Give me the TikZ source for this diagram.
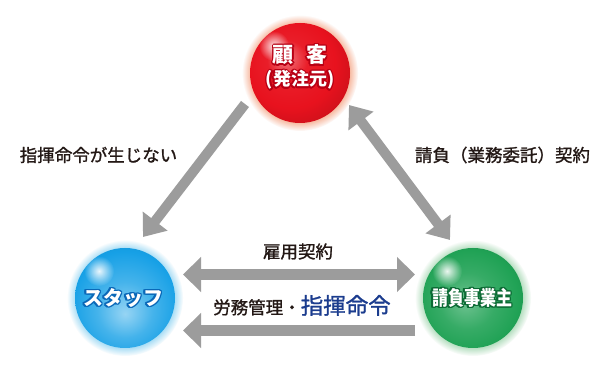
\documentclass[tikz,border=0pt]{standalone}
\usepackage{fontspec}
\usepackage{graphicx}
\setmainfont{Noto Sans CJK JP}
\newfontfamily\lblfont[FakeBold=1.2]{Noto Sans CJK JP}
\usetikzlibrary{arrows.meta,calc,fadings}
\definecolor{redc}{HTML}{E8121E}
\definecolor{reddark}{HTML}{B80014}
\definecolor{redglow}{HTML}{F7B9A0}
\definecolor{bluec}{HTML}{16A0E6}
\definecolor{bluedark}{HTML}{0A68B8}
\definecolor{blueglow}{HTML}{A8DDF5}
\definecolor{greenc}{HTML}{20A255}
\definecolor{greendark}{HTML}{0B6A34}
\definecolor{greenglow}{HTML}{B4DEBF}
\definecolor{arrowgray}{HTML}{9C9C9C}
\definecolor{navy}{HTML}{1B3C8E}
\definecolor{textc}{HTML}{231815}
\pgfdeclareradialshading{redball}{\pgfpoint{-8bp}{8bp}}{color(0bp)=(redc!55!white); color(10bp)=(redc!95!white); color(22bp)=(redc); color(30bp)=(redc!90!black); color(50bp)=(redc!85!black)}
\pgfdeclareradialshading{blueball}{\pgfpoint{0bp}{-8bp}}{color(0bp)=(bluec!45!white); color(14bp)=(bluec!80!white); color(27bp)=(bluec); color(35bp)=(bluec!90!black); color(50bp)=(bluec!88!black)}
\pgfdeclareradialshading{greenball}{\pgfpoint{-4bp}{-2bp}}{color(0bp)=(greenc!65!white); color(14bp)=(greenc!90!white); color(25bp)=(greenc); color(31bp)=(greenc!90!black); color(50bp)=(greenc!85!black)}
\tikzfading[name=softspot, inner color=transparent!0, outer color=transparent!100]
\newcommand\ballpaint[3]{%
  \fill[#3, path fading=circle with fuzzy edge 15 percent] (#1) circle (58);
  \shade[shading=#2] (#1) circle (50);
  \begin{scope}
    \clip (#1) circle (50);
    \fill[white, opacity=0.9, path fading=softspot] ($(#1)+(-26,27)$) circle (15);
  \end{scope}}
\newcommand\outlinetext[4]{% #1 coordinate, #2 outline colour, #3 font, #4 text
  \foreach \ang in {0,30,...,330}{\node[text=#2,font=#3] (#1-o\ang) at ($(#1)+(\ang:1.4)$) {#4};}
  \node[text=white,font=#3] (#1-t) at (#1) {#4};}
\tikzset{
  ballnode/.style={circle, minimum size=100pt, inner sep=0pt},
  lbl/.style={text=textc, font=\lblfont\fontsize{17.5}{17.5}\selectfont, inner sep=0pt},
  fatarrow/.style={draw=arrowgray, line width=10pt, arrows={-{Triangle[length=20pt,width=30pt]}}},
  fatdouble/.style={draw=arrowgray, line width=10pt, arrows={{Triangle[length=20pt,width=30pt]}-{Triangle[length=20pt,width=30pt]}}},
  hdouble/.style={draw=arrowgray, line width=11pt, arrows={{Triangle[length=18pt,width=34pt]}-{Triangle[length=18pt,width=34pt]}}},
  harrow/.style={draw=arrowgray, line width=11pt, arrows={-{Triangle[length=18pt,width=34pt]}}}
}
\begin{document}
\begin{tikzpicture}[x=1pt,y=1pt]
\fill[white] (0,0) rectangle (600,371);
\useasboundingbox (0,0) rectangle (600,371);
% balls
\node[ballnode] (red) at (300,298) {};
\node[ballnode] (blue) at (125,73) {};
\node[ballnode] (green) at (473,73) {};
\ballpaint{red}{redball}{redglow}
\ballpaint{blue}{blueball}{blueglow}
\ballpaint{green}{greenball}{greenglow}
% ball texts
\coordinate (rt1) at ($(red)+(0,18)$);
\coordinate (rt2) at ($(red)+(0,-7)$);
\coordinate (bt) at ($(blue)+(-2,0)$);
\coordinate (gt) at ($(green)+(-1,0)$);
\outlinetext{rt1}{reddark}{\bfseries\fontsize{21}{21}\selectfont}{顧\hspace{0.6em}客}
\outlinetext{rt2}{reddark}{\bfseries\fontsize{18}{18}\selectfont}{(発注元)}
\outlinetext{bt}{bluedark}{\bfseries\fontsize{20}{20}\selectfont}{スタッフ}
\outlinetext{gt}{greendark}{\bfseries\fontsize{20}{20}\selectfont}{\scalebox{0.8}[1]{請負事業主}}
% arrow end points
\coordinate (a1s) at ($(red)+(-55,-31)$);
\coordinate (a1e) at ($(blue)+(18,61)$);
\coordinate (a2s) at ($(red)+(49,-32)$);
\coordinate (a2e) at ($(green)+(-23,58)$);
\coordinate (a3s) at ($(blue)+(58,23.5)$);
\coordinate (a3e) at ($(green)+(-58,23.5)$);
\coordinate (a4s) at ($(green)+(-58,-32.5)$);
\coordinate (a4e) at ($(blue)+(58,-32.5)$);
\draw[fatarrow] (a1s) -- (a1e);
\draw[fatdouble] (a2s) -- (a2e);
\draw[hdouble] (a3s) -- (a3e);
\draw[harrow] (a4s) -- (a4e);
% labels
\node[lbl] (l1) at (98.5,216) {指揮命令が生じない};
\node[lbl] (l2) at (502.5,216) {請負（業務委託）契約};
\node[lbl] (l3) at (298,119.5) {雇用契約};
\node[lbl, anchor=base] (l4) at (302,57) {労務管理・{\color{navy}\fontsize{22.5}{22.5}\selectfont 指揮命令}};
\end{tikzpicture}
\end{document}
